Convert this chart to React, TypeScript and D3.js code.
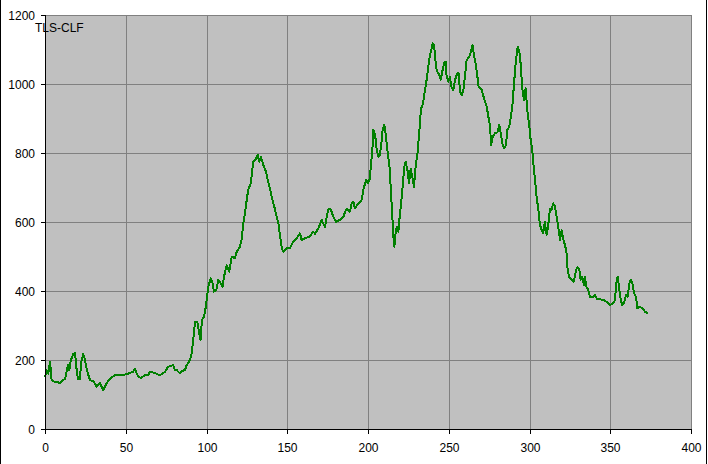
import React from "react";
import * as d3 from "d3";

const xTicks = [0, 50, 100, 150, 200, 250, 300, 350, 400];
const yTicks = [0, 200, 400, 600, 800, 1000, 1200];
const seriesName = "TLS-CLF";

const seriesX = [
  0, 1, 2, 3.1, 4.1, 5, 7.4, 9, 10.5, 12.4, 14.2, 15, 16, 17.5, 18.6, 19.6, 20.4, 21.5, 22.7, 23.7,
  24.5, 26.2, 27.9, 30, 32, 34, 36.1, 38.2, 40, 43.3, 48, 52.6, 54.5, 55.7, 57.6, 59.5, 61.9, 64, 65, 68,
  71.2, 74.3, 76.2, 79.3, 80.5, 81.5, 83.6, 85, 86.7, 87.7, 89.8, 90.8, 91.8, 92.9, 94.3, 95.5, 96.3, 97.2, 98.4, 99.6,
  101.1, 102.6, 103.5, 104.6, 106, 107.3, 108.4, 109.9, 110.8, 112.5, 114.1, 115.6, 117.6, 118.7, 120.7, 121.7, 122.8, 123.8, 124.9, 125.9,
  127.4, 128.1, 129, 130.7, 131.7, 132.6, 133.7, 135.2, 136.8, 137.7, 139.3, 140.4, 142, 143.5, 144.5, 145.5, 146.6, 147.5, 149.7, 151.7,
  153.7, 155.8, 157.9, 158.9, 161, 164, 166.1, 167.2, 169.2, 171.3, 172.3, 173.4, 174.4, 175.4, 176.5, 177.5, 178.5, 180.2, 182.7, 184.8,
  185.8, 186.8, 188.8, 189.9, 190.9, 191.9, 194, 196.1, 197.1, 198.8, 200, 201.2, 201.8, 202.7, 203.3, 204.1, 204.8, 205.4, 206.4, 207.4,
  208.5, 209.1, 210.1, 210.9, 212, 213.3, 214.1, 214.7, 215.3, 215.7, 216.3, 217.1, 217.8, 218.8, 219.8, 220.4, 220.9, 221.5, 222.5, 223.3,
  224.6, 225.4, 226.4, 227.4, 228.5, 229.1, 229.7, 230.8, 231.4, 232.2, 232.8, 233.9, 235.3, 236.3, 237.3, 238.4, 239.4, 240.1, 240.9, 241.5,
  242.1, 242.9, 244.1, 245, 246, 247.1, 248.1, 248.7, 249.7, 250.7, 251.8, 252.8, 253.9, 255.3, 256.1, 257, 258, 259, 260, 261.1,
  262.1, 263.2, 264.2, 264.8, 265.6, 266.6, 267.5, 268.5, 269.3, 270.4, 272.4, 273.5, 274.5, 275.6, 276.2, 277.2, 278.6, 280.1, 281.3, 282.1,
  283.2, 284.2, 285.4, 286.3, 287.5, 288.5, 289.5, 290.6, 291.6, 292.7, 293.7, 294.5, 295.5, 296.6, 297.6, 298.6, 299.9, 300.7, 301.7, 302.4,
  303.4, 304.4, 305.4, 306.5, 307.5, 308.5, 309.5, 310.6, 311.6, 312.7, 313.7, 314.7, 315.8, 316.8, 317.8, 318.9, 319.9, 321, 322, 323,
  323.6, 324.6, 326.1, 327.5, 328.8, 329.8, 330.8, 331.7, 332.7, 333.7, 334.3, 335.3, 336.4, 337.5, 339.5, 340.6, 341.7, 343.7, 346.7, 348.8,
  349.8, 351.8, 352.9, 354, 354.6, 355.4, 356.5, 357.5, 358.6, 359.8, 360.8, 361.8, 362.7, 363.7, 364.8, 366, 366.7, 368.4, 370.1, 371.5,
  373.2,
];

const seriesY = [
  150, 171, 160, 195, 142, 138, 137, 133, 140, 145, 185, 170, 200, 217, 220, 171, 145, 145, 200, 217,
  205, 166, 142, 138, 123, 133, 113, 133, 145, 156, 156, 162, 166, 174, 152, 148, 156, 156, 166, 162,
  156, 166, 180, 185, 171, 171, 161, 168, 171, 185, 200, 220, 260, 311, 311, 277, 258, 316, 325, 354,
  412, 437, 428, 398, 402, 432, 425, 412, 441, 475, 456, 500, 495, 514, 528, 548, 596, 625, 664, 695,
  712, 741, 775, 784, 794, 775, 789, 765, 746, 726, 697, 673, 644, 615, 596, 562, 524, 514, 524, 524,
  543, 553, 567, 548, 553, 558, 572, 566, 581, 606, 596, 586, 615, 635, 639, 630, 615, 601, 606, 615,
  630, 639, 630, 654, 659, 639, 654, 664, 693, 722, 712, 726, 765, 809, 867, 857, 838, 809, 789, 794,
  838, 871, 881, 857, 809, 760, 697, 644, 596, 557, 528, 567, 586, 572, 625, 649, 673, 707, 760, 775,
  746, 712, 755, 731, 702, 740, 770, 804, 842, 886, 929, 940, 983, 1012, 1050, 1084, 1103, 1118, 1113, 1084,
  1050, 1036, 1026, 1012, 1036, 1060, 1065, 1021, 1007, 1021, 988, 983, 1012, 1031, 1031, 978, 968, 978, 1021, 1070,
  1075, 1084, 1103, 1113, 1084, 1060, 1031, 992, 988, 983, 949, 935, 906, 877, 823, 847, 857, 860, 881, 860,
  828, 813, 823, 867, 877, 906, 944, 1012, 1070, 1108, 1094, 1060, 988, 954, 988, 925, 877, 838, 809, 770,
  722, 673, 639, 591, 577, 567, 601, 562, 591, 639, 635, 654, 645, 615, 586, 548, 577, 548, 533, 509,
  461, 441, 432, 427, 461, 468, 465, 432, 441, 417, 440, 412, 403, 383, 383, 388, 378, 376, 372, 364,
  359, 364, 374, 432, 441, 412, 374, 359, 367, 388, 383, 422, 432, 422, 393, 383, 350, 354, 350, 340,
  335,
];

const W = 708;
const H = 464;
const left = 45;
const right = 691;
const top = 15;
const bottom = 429;

export default function App() {
  const x = d3.scaleLinear().domain([0, 400]).range([left, right]);
  const y = d3.scaleLinear().domain([0, 1200]).range([bottom, top]);
  const pts: [number, number][] = seriesX.map((v, i) => [v, seriesY[i]]);
  const line = d3
    .line<[number, number]>()
    .x((d) => x(d[0]))
    .y((d) => y(d[1]));
  const font = "'Liberation Sans', Arial, sans-serif";

  return (
    <svg
      width={W}
      height={H}
      style={{ position: "absolute", left: 0, top: 0, background: "#ffffff" }}
      fontFamily={font}
      fontSize={12}
    >
      <rect x={0} y={0} width={W} height={H} fill="#ffffff" />
      <rect x={left} y={top} width={right - left} height={bottom - top} fill="#c0c0c0" />
      {xTicks.slice(1).map((t) => (
        <line
          key={"gx" + t}
          x1={Math.round(x(t)) + 0.5}
          x2={Math.round(x(t)) + 0.5}
          y1={top}
          y2={bottom}
          stroke="#808080"
          strokeWidth={1}
        />
      ))}
      {yTicks.slice(1).map((t) => (
        <line
          key={"gy" + t}
          x1={left}
          x2={right + 1}
          y1={Math.round(y(t)) + 0.5}
          y2={Math.round(y(t)) + 0.5}
          stroke="#808080"
          strokeWidth={1}
        />
      ))}
      <path
        d={line(pts) || ""}
        fill="none"
        stroke="#008000"
        strokeWidth={2}
        strokeLinejoin="round"
        shapeRendering="crispEdges"
      />
      {/* axes */}
      <line x1={left + 0.5} x2={left + 0.5} y1={top} y2={bottom + 1} stroke="#000" />
      <line x1={left} x2={right + 1} y1={bottom + 0.5} y2={bottom + 0.5} stroke="#000" />
      {yTicks.map((t) => (
        <g key={"ty" + t}>
          <line
            x1={left - 4}
            x2={left}
            y1={Math.round(y(t)) + 0.5}
            y2={Math.round(y(t)) + 0.5}
            stroke="#000"
          />
          <text x={35} y={Math.round(y(t)) + 4.5} textAnchor="end" fill="#000">
            {t}
          </text>
        </g>
      ))}
      {xTicks.map((t) => (
        <g key={"tx" + t}>
          <line
            x1={Math.round(x(t)) + 0.5}
            x2={Math.round(x(t)) + 0.5}
            y1={bottom}
            y2={bottom + 5}
            stroke="#000"
          />
          <text x={Math.round(x(t)) + 0.5} y={451.5} textAnchor="middle" fill="#000">
            {t}
          </text>
        </g>
      ))}
      <text x={35} y={31.5} fill="#000">
        {seriesName}
      </text>
      <line x1={0.5} x2={0.5} y1={0} y2={H} stroke="#000" />
      <line x1={706.5} x2={706.5} y1={0} y2={H} stroke="#000" />
    </svg>
  );
}
